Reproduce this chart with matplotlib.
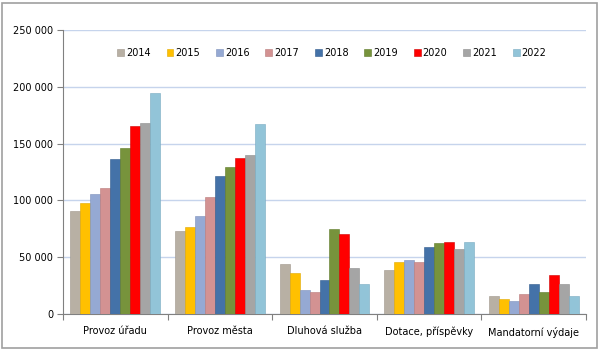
import matplotlib.pyplot as plt
import matplotlib.patches as patches
import numpy as np

categories = ["Provoz úřadu", "Provoz města", "Dluhová služba",
              "Dotace, příspěvky", "Mandatorní výdaje"]
years = ["2014", "2015", "2016", "2017", "2018", "2019", "2020", "2021", "2022"]

# hodnoty po rocich, poradi jako categories
v2014 = [90800, 73200, 44400, 38500, 15600]
v2015 = [97900, 77000, 36200, 45900, 13500]
v2016 = [105200, 86700, 21200, 47400, 11200]
v2017 = [110800, 103200, 19400, 45900, 17300]
v2018 = [136400, 121100, 30000, 58800, 26200]
v2019 = [146100, 129300, 75000, 62600, 19400]
v2020 = [165500, 137600, 70600, 63500, 34400]
v2021 = [168100, 139900, 40600, 57000, 26200]
v2022 = [194900, 167000, 26500, 63800, 15600]
values = [v2014, v2015, v2016, v2017, v2018, v2019, v2020, v2021, v2022]

colors = ["#B8B0A4", "#FFC000", "#95A9D3", "#D39292", "#4472A8",
          "#77933C", "#FF0000", "#A5A5A5", "#92C4D8"]
edges = ["#9E968A", "#E0A800", "#7C90BA", "#B87A7A", "#2F5A8C",
         "#5E7A28", "#D00000", "#8C8C8C", "#78AAC0"]

fig = plt.figure(figsize=(6, 3.5), dpi=100)
fig.patches.append(patches.Rectangle((2 / 600, 2 / 350), 595 / 600, 345 / 350,
                                     transform=fig.transFigure, fill=False,
                                     edgecolor="#A0A0A0", linewidth=1.2))
ax = fig.add_axes([63 / 600, 36 / 350, 523 / 600, 284 / 350])

x = np.arange(len(categories))
w = 0.0956
for i, (yr, vals) in enumerate(zip(years, values)):
    ax.bar(x + (i - 4) * w, vals, width=w, color=colors[i],
           edgecolor=edges[i], linewidth=0.4, label=yr, zorder=3)

ax.set_xlim(-0.5, len(categories) - 0.5)
ax.set_ylim(0, 250000)
ax.set_yticks(np.arange(0, 250001, 50000))
ax.set_yticklabels([f"{int(t):,}".replace(",", " ") for t in np.arange(0, 250001, 50000)])
ax.yaxis.grid(True, color="#C6D4EC", linewidth=1, zorder=0)
ax.set_axisbelow(True)

ax.set_xticks(np.arange(-0.5, len(categories)), minor=False)
ax.set_xticklabels([])
ax.set_xticks(x, minor=True)
ax.set_xticklabels(categories, minor=True)
ax.tick_params(axis="x", which="minor", length=0, pad=9, labelsize=7)
ax.tick_params(axis="x", which="major", length=4, color="#808080")
ax.tick_params(axis="y", length=4, color="#808080", labelsize=7, pad=3)

for s in ["top", "right"]:
    ax.spines[s].set_visible(False)
for s in ["left", "bottom"]:
    ax.spines[s].set_color("#808080")

ax.legend(loc="center", bbox_to_anchor=(0.514, 0.919), ncol=9, frameon=False,
          fontsize=7, handlelength=0.7, handleheight=0.7, handletextpad=0.2,
          columnspacing=1.65)

fig.savefig("out.png", dpi=100)
